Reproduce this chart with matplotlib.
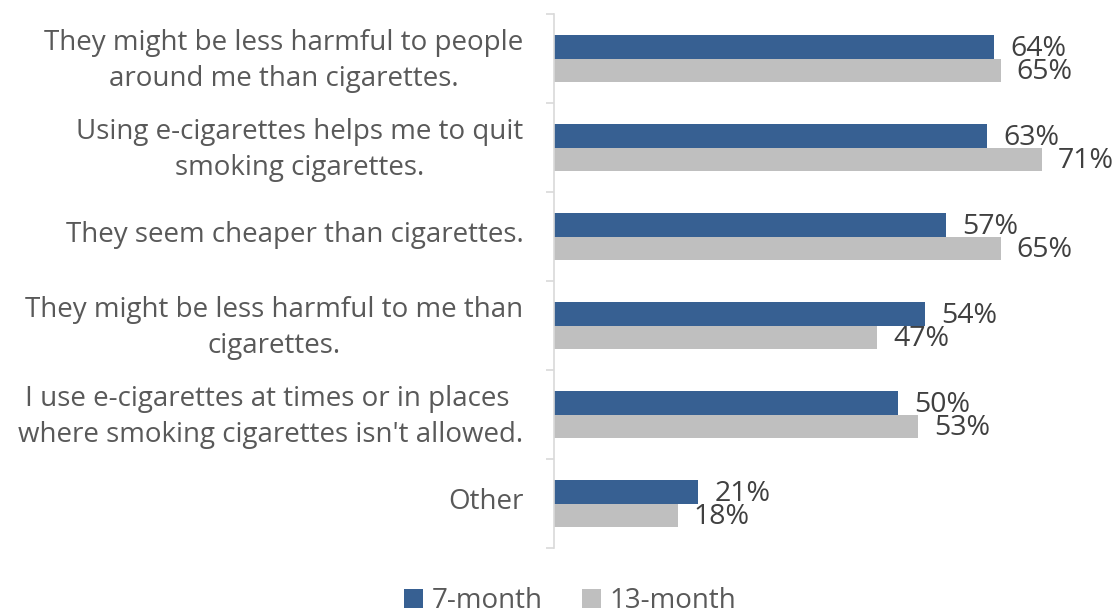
import matplotlib
matplotlib.use("Agg")
import matplotlib.pyplot as plt
import matplotlib.transforms as mtransforms
import numpy as np

categories = [
    "They might be less harmful to people\naround me than cigarettes.",
    "Using e-cigarettes helps me to quit\nsmoking cigarettes.",
    "They seem cheaper than cigarettes.",
    "They might be less harmful to me than\ncigarettes.",
    "I use e-cigarettes at times or in places \nwhere smoking cigarettes isn't allowed.",
    "Other",
]
month7 = [64, 63, 57, 54, 50, 21]
month13 = [65, 71, 65, 47, 53, 18]
series_names = ["7-month", "13-month"]
colors = ["#376092", "#BFBFBF"]

plt.rcParams['font.family'] = ['Open Sans', 'DejaVu Sans']

fig = plt.figure(figsize=(11.15, 6.13), dpi=100)
ax = fig.add_axes([554/1115, 1-548/613, (1104-554)/1115, (548-14)/613])

y = np.arange(len(categories))
h = 0.26
b1 = ax.barh(y - h/2, month7, height=h, color=colors[0], label=series_names[0])
b2 = ax.barh(y + h/2, month13, height=h, color=colors[1], label=series_names[1])

for bars, vals in ((b1, month7), (b2, month13)):
    for rect, v in zip(bars, vals):
        ax.annotate(f"{v}%", xy=(rect.get_width(), rect.get_y() + rect.get_height()/2),
                    xytext=(11.5, -1.5), textcoords="offset points",
                    ha="left", va="center", fontsize=20.5, color="#404040")

ax.set_xlim(0, 80)
ax.set_ylim(len(categories) - 0.5, -0.5)
ax.set_xticks([])
ax.set_yticks(y)
ax.set_yticklabels(categories, fontsize=20, color="#595959", multialignment="center", linespacing=1.4)
ax.set_yticks(np.arange(-0.5, len(categories)), minor=True)
ax.tick_params(axis="y", which="major", length=0, pad=22)
ax.tick_params(axis="y", which="minor", length=6, color="#D9D9D9", width=1.2)
shift = mtransforms.ScaledTranslation(0, 0.05, fig.dpi_scale_trans)
for lbl in ax.get_yticklabels():
    lbl.set_transform(lbl.get_transform() + shift)
for s in ("top", "right", "bottom"):
    ax.spines[s].set_visible(False)
ax.spines["left"].set_color("#D9D9D9")
ax.spines["left"].set_linewidth(1.2)

fig.legend(handles=[b1, b2], labels=series_names, loc="center", bbox_to_anchor=(570/1115, 1-601/613),
           ncol=2, frameon=False, fontsize=20, handlelength=0.7, handleheight=0.7,
           handletextpad=0.3, columnspacing=1.4, labelcolor="#595959")

fig.savefig("out.png", dpi=100)
